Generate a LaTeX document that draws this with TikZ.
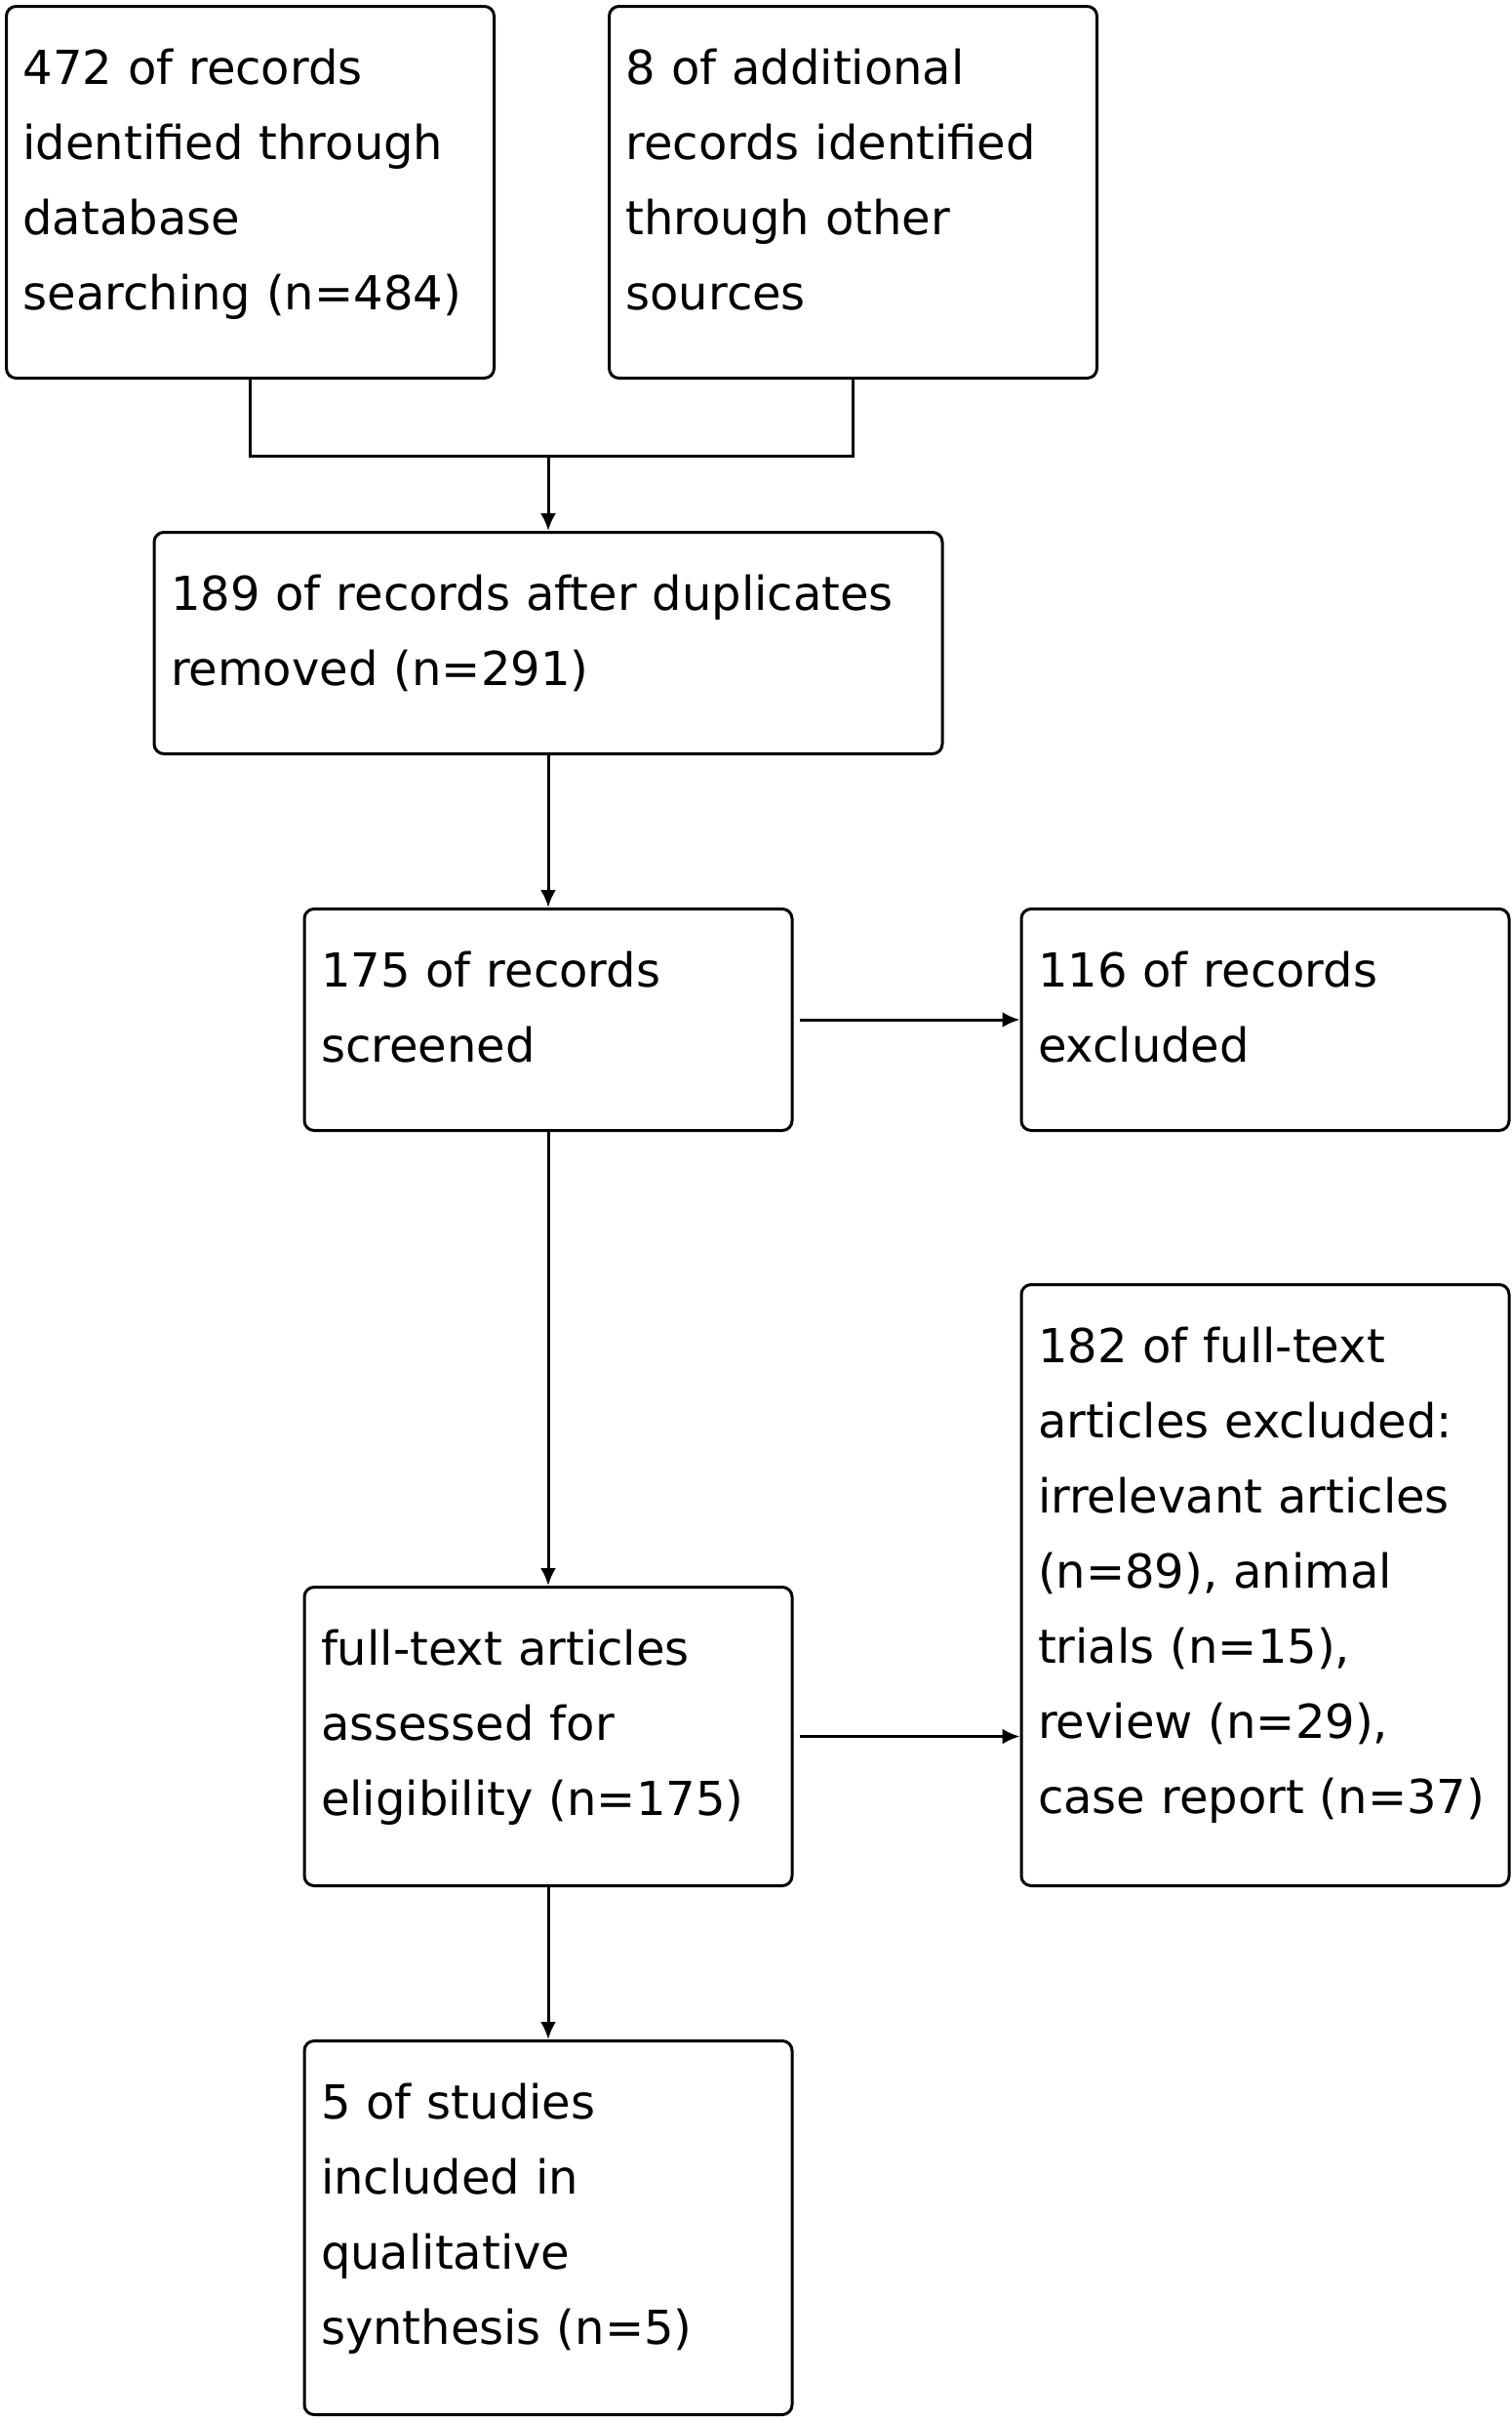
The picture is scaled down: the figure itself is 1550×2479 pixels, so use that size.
\documentclass[tikz,border=0pt]{standalone}
\usepackage{fontspec}
\setmainfont{DejaVu Sans}
\usetikzlibrary{arrows.meta,positioning}
\tikzset{
    %Define standard arrow tip
    >={Latex[length=18pt,width=16pt]},
    %Define style for boxes
    flowbox/.style={
           rectangle,
           rounded corners=10pt,
           draw=black, line width=3pt,
           text width=466pt,
           inner xsep=17pt,
           inner ysep=0pt,
           text height=80pt,
           align=left,
           font=\fontsize{48pt}{77pt}\selectfont},
    widebox/.style={
           flowbox,
           text width=774pt},
    % Define arrow style
    pil/.style={
           ->,
           line width=3pt},
    side/.style={
           pil,
           shorten <=6pt}
}

\begin{document}
\begin{tikzpicture}
 \useasboundingbox (0pt,0pt) rectangle (1550pt,-2479pt);

 \node[flowbox, text depth=301pt, anchor=north west] (database) at (5pt,-5pt) {
 	472 of records\\ identified through\\ database\\ searching (n=484)
 };
 \node[flowbox, text depth=301pt, right=115pt of database] (other) {
 	8 of additional\\ records identified\\ through other\\ sources
 };

 \coordinate (merge) at (562pt,-467pt);

 \node[widebox, text depth=147pt, below=77pt of merge] (duplicates) {
 	189 of records after duplicates\\ removed (n=291)
 };

 \node[flowbox, text depth=147pt, below=156pt of duplicates] (screened) {
 	175 of records\\ screened
 };
 \node[flowbox, text depth=147pt, right=232pt of screened] (excluded) {
 	116 of records\\ excluded
 };

 \node[flowbox, text depth=226pt, below=465pt of screened] (assessed) {
 	full-text articles\\ assessed for\\ eligibility (n=175)
 };
 \node[flowbox, text depth=536pt, above right=0pt and 232pt of assessed.south east] (fulltext) {
 	182 of full-text\\ articles excluded:\\ irrelevant articles\\ (n=89), animal\\ trials (n=15),\\ review (n=29),\\ case report (n=37)
 };

 \node[flowbox, text depth=303pt, below=156pt of assessed] (included) {
 	5 of studies\\ included in\\ qualitative\\ synthesis (n=5)
 };

 \draw[line width=3pt] (database.south) |- (merge) -| (other.south);
 \draw[pil] (merge) -- (duplicates);
 \draw[pil] (duplicates) -- (screened);
 \draw[side] (screened) -- (excluded);
 \draw[pil] (screened) -- (assessed);
 \draw[side] (assessed.east) -- (assessed.east -| fulltext.west);
 \draw[pil] (assessed) -- (included);

\end{tikzpicture}
\end{document}
